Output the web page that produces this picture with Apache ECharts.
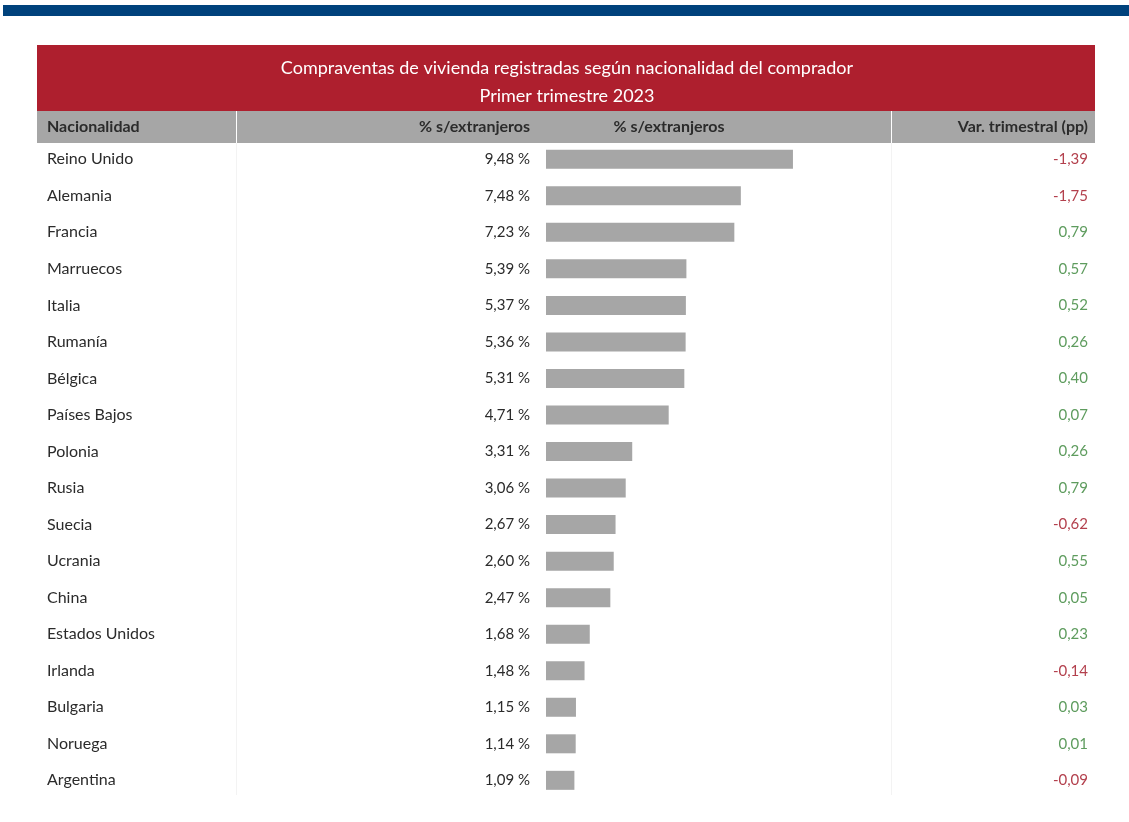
<!DOCTYPE html>
<html>
<head>
<meta charset="utf-8">
<script src="https://cdn.jsdelivr.net/npm/echarts@6/dist/echarts.min.js"></script>
<style>
  html, body { margin: 0; padding: 0; background: #fff; }
  #chart { width: 1129px; height: 822px; }
</style>
</head>
<body>
<div id="chart"></div>
<script>
    // datos: compraventas por nacionalidad, primer trimestre 2023
    var countries = ['Reino Unido', 'Alemania', 'Francia', 'Marruecos', 'Italia', 'Rumanía', 'Bélgica', 'Países Bajos',
        'Polonia', 'Rusia', 'Suecia', 'Ucrania', 'China', 'Estados Unidos', 'Irlanda', 'Bulgaria', 'Noruega', 'Argentina'];
    var shares = [9.48, 7.48, 7.23, 5.39, 5.37, 5.36, 5.31, 4.71, 3.31, 3.06, 2.67, 2.60, 2.47, 1.68, 1.48, 1.15, 1.14, 1.09];
    var varTrim = [-1.39, -1.75, 0.79, 0.57, 0.52, 0.26, 0.40, 0.07, 0.26, 0.79, -0.62, 0.55, 0.05, 0.23, -0.14, 0.03, 0.01, -0.09];
    var headers = ['Nacionalidad', '% s/extranjeros', '% s/extranjeros', 'Var. trimestral (pp)'];

    var FONT = 'Lato';
    function fmt(v) { return v.toFixed(2).replace('.', ','); }

    var headerText = { fill: '#2b2b2b', font: 'bold 16px ' + FONT, textVerticalAlign: 'middle' };

    const option = {
        backgroundColor: '#fff',
        animation: false,
        title: {
            text: 'Compraventas de vivienda registradas según nacionalidad del comprador\nPrimer trimestre 2023',
            left: 567,
            textAlign: 'center',
            top: 54,
            padding: 0,
            textStyle: {
                color: '#fff',
                fontFamily: FONT,
                fontWeight: 'normal',
                fontSize: 18,
                lineHeight: 28
            }
        },
        graphic: [
            { type: 'rect', z: -1, shape: { x: 3, y: 5, width: 1126, height: 11 }, style: { fill: '#00427c' } },
            { type: 'rect', z: -1, shape: { x: 37, y: 45, width: 1058, height: 66 }, style: { fill: '#ae1f2e' } },
            { type: 'rect', z: -1, shape: { x: 37, y: 111, width: 1058, height: 32 }, style: { fill: '#a6a6a6' } },
            { type: 'line', z: 0, shape: { x1: 236.5, y1: 111, x2: 236.5, y2: 143 }, style: { stroke: '#fff', lineWidth: 1 } },
            { type: 'line', z: 0, shape: { x1: 891.5, y1: 111, x2: 891.5, y2: 143 }, style: { stroke: '#fff', lineWidth: 1 } },
            { type: 'line', z: -1, shape: { x1: 236.5, y1: 143, x2: 236.5, y2: 795 }, style: { stroke: '#f3f3f3', lineWidth: 1 } },
            { type: 'line', z: -1, shape: { x1: 891.5, y1: 143, x2: 891.5, y2: 795 }, style: { stroke: '#f3f3f3', lineWidth: 1 } },
            { type: 'text', z: 1, x: 47, y: 127, style: Object.assign({ text: headers[0], textAlign: 'left' }, headerText) },
            { type: 'text', z: 1, x: 530, y: 127, style: Object.assign({ text: headers[1], textAlign: 'right' }, headerText) },
            { type: 'text', z: 1, x: 669, y: 127, style: Object.assign({ text: headers[2], textAlign: 'center' }, headerText) },
            { type: 'text', z: 1, x: 1088, y: 127, style: Object.assign({ text: headers[3], textAlign: 'right' }, headerText) }
        ],
        grid: {
            left: 546,
            top: 141,
            width: 312.6,
            height: 657.6,
            containLabel: false,
            show: false
        },
        xAxis: {
            type: 'value',
            min: 0,
            max: 12,
            show: false
        },
        yAxis: [
            {
                type: 'category',
                inverse: true,
                data: countries,
                axisLine: { show: false },
                axisTick: { show: false },
                axisLabel: {
                    align: 'left',
                    margin: 499,
                    color: '#2b2b2b',
                    fontFamily: FONT,
                    fontSize: 16
                }
            },
            {
                type: 'category',
                inverse: true,
                position: 'right',
                data: varTrim.map(fmt),
                axisLine: { show: false },
                axisTick: { show: false },
                axisLabel: {
                    align: 'right',
                    margin: 229.4,
                    fontFamily: FONT,
                    fontSize: 15,
                    formatter: function (v) {
                        return v.charAt(0) === '-' ? '{neg|' + v + '}' : '{pos|' + v + '}';
                    },
                    rich: {
                        neg: { color: '#b3404d', fontFamily: FONT, fontSize: 15 },
                        pos: { color: '#5e9c5e', fontFamily: FONT, fontSize: 15 }
                    }
                }
            }
        ],
        series: [
            {
                type: 'bar',
                yAxisIndex: 0,
                data: shares,
                barWidth: 19,
                itemStyle: { color: '#a6a6a6' },
                label: {
                    show: true,
                    position: 'left',
                    distance: 16,
                    color: '#2b2b2b',
                    fontFamily: FONT,
                    fontSize: 15,
                    formatter: function (p) { return fmt(p.value) + ' %'; }
                }
            }
        ]
    };
    const chart = echarts.init(document.getElementById('chart'));
    chart.setOption(option);
    window.addEventListener('resize', function () {
        chart.resize();
    });
</script>
</body>
</html>
